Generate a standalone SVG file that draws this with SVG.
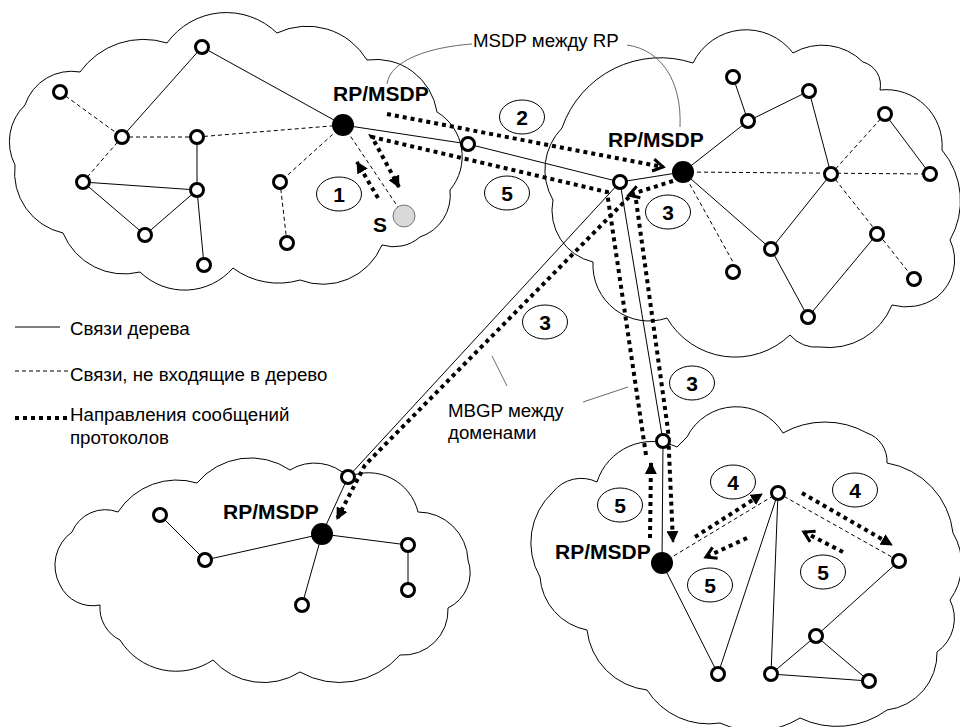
<svg xmlns="http://www.w3.org/2000/svg" width="960" height="727" viewBox="0 0 960 727">
<style>
.cloud{fill:none;stroke:#000;stroke-width:1}
.t{stroke:#000;stroke-width:1;fill:none}
.d{stroke:#000;stroke-width:1;stroke-dasharray:4 3;fill:none}
.m{stroke:#000;stroke-width:4;stroke-dasharray:4 4;fill:none}
.n{fill:#fff;stroke:#000;stroke-width:3}
.rp{fill:#000}
.src{fill:#d9d9d9;stroke:#777;stroke-width:1}
.lead{fill:none;stroke:#444;stroke-width:0.8}
.e{fill:#fff;stroke:#000;stroke-width:1}
.lbl{font-family:"Liberation Sans",Arial,sans-serif;font-size:18.7px;fill:#000}
.b{font-family:"Liberation Sans",Arial,sans-serif;font-size:21px;font-weight:bold;fill:#000}
.num{font-family:"Liberation Sans",Arial,sans-serif;font-size:21px;font-weight:bold;fill:#000;text-anchor:middle}
</style>
<defs>
<marker id="tri" viewBox="0 0 12 12" refX="11" refY="6" markerWidth="12" markerHeight="12" markerUnits="userSpaceOnUse" orient="auto"><path d="M0,0 L12,6 L0,12 Z" fill="#000"/></marker>
<marker id="chev" viewBox="-2 -2 16 16" refX="11" refY="6" markerWidth="16" markerHeight="16" markerUnits="userSpaceOnUse" orient="auto"><path d="M1,0 L11,6 L1,12" fill="none" stroke="#000" stroke-width="3"/></marker>
</defs>
<rect width="960" height="727" fill="#fff"/>

<g id="clouds">
<path class="cloud" d="M25,105 A49,49 0 0 1 80,72 A78,78 0 0 1 167,43 A73,73 0 0 1 277,33 A70,70 0 0 1 367,60 A62,62 0 0 1 437,112 A52,52 0 0 1 450,190 A44,44 0 0 1 420,237 A40,40 0 0 1 382,245 A64,64 0 0 1 300,280 A76,76 0 0 1 233,268 A64,64 0 0 1 140,272 A66,66 0 0 1 63,233 A62,62 0 0 1 15,165 A51,51 0 0 1 25,105 Z"/>
<path class="cloud" d="M562,128 A104,104 0 0 1 693,63 A59,59 0 0 1 793,53 A58,58 0 0 1 863,62 A24,24 0 0 1 880,90 A56,56 0 0 1 942,150 A79,79 0 0 1 950,240 A47,47 0 0 1 937,297 A53,53 0 0 1 892,305 A68,68 0 0 1 820,347 A34,34 0 0 1 790,335 A79,79 0 0 1 667,318 A56,56 0 0 1 593,262 A53,53 0 0 1 553,200 A60,60 0 0 1 562,128 Z"/>
<path class="cloud" d="M72,532 A36,36 0 0 1 118,512 A70,70 0 0 1 197,483 A70,70 0 0 1 290,470 A47,47 0 0 1 348,477 A51,51 0 0 1 418,512 A50,50 0 0 1 468,560 A39,39 0 0 1 448,608 A45,45 0 0 1 400,655 A80,80 0 0 1 300,672 A68,68 0 0 1 213,660 A66,66 0 0 1 120,640 A36,36 0 0 1 100,605 A36,36 0 0 1 60,585 A41,41 0 0 1 72,532 Z"/>
<path class="cloud" d="M553,492 A36,36 0 0 1 597,482 A58,58 0 0 1 677,447 L687,437 A55,55 0 0 1 783,433 A86,86 0 0 1 867,433 A30,30 0 0 1 887,463 A80,80 0 0 1 953,533 A61,61 0 0 1 950,600 A41,41 0 0 1 937,652 A57,57 0 0 1 887,710 A85,85 0 0 1 800,718 A85,85 0 0 1 720,723 A73,73 0 0 1 647,690 A68,68 0 0 1 587,630 A58,58 0 0 1 540,577 A69,69 0 0 1 553,492 Z"/>
</g>

<g id="connectors">
<!-- top-left domain -->
<line class="t" x1="202" y1="47" x2="343" y2="125"/>
<line class="t" x1="202" y1="47" x2="122" y2="137"/>
<line class="t" x1="197" y1="137" x2="197" y2="190"/>
<line class="t" x1="83" y1="182" x2="197" y2="190"/>
<line class="t" x1="83" y1="182" x2="145" y2="235"/>
<line class="t" x1="145" y1="235" x2="197" y2="190"/>
<line class="t" x1="197" y1="190" x2="204" y2="265"/>
<line class="d" x1="60" y1="92" x2="122" y2="137"/>
<line class="d" x1="122" y1="137" x2="197" y2="137"/>
<line class="d" x1="197" y1="137" x2="343" y2="125"/>
<line class="d" x1="122" y1="137" x2="83" y2="182"/>
<line class="d" x1="343" y1="125" x2="280" y2="182"/>
<line class="d" x1="280" y1="182" x2="287" y2="243"/>
<line class="d" x1="343" y1="125" x2="404" y2="216"/>
<!-- inter-domain -->
<polyline class="t" points="343,125 468,144 620,182 683,172"/>
<line class="t" x1="620" y1="182" x2="348" y2="477"/>
<polyline class="t" points="620,182 663,441 662,563"/>
<!-- top-right domain -->
<polyline class="t" points="683,172 748,121 809,91 831,174 771,249 808,317 877,234"/>
<line class="t" x1="733" y1="77" x2="748" y2="121"/>
<line class="t" x1="885" y1="114" x2="930" y2="174"/>
<line class="t" x1="683" y1="172" x2="771" y2="249"/>
<line class="d" x1="683" y1="172" x2="930" y2="174"/>
<line class="d" x1="831" y1="174" x2="885" y2="114"/>
<line class="d" x1="831" y1="174" x2="914" y2="279"/>
<line class="d" x1="683" y1="172" x2="733" y2="262"/>
<!-- bottom-left domain -->
<line class="t" x1="348" y1="477" x2="322" y2="534"/>
<polyline class="t" points="160,515 205,560 322,534 408,545 408,590"/>
<line class="t" x1="322" y1="534" x2="302" y2="605"/>
<!-- bottom-right domain -->
<polyline class="t" points="662,563 718,674 778,493 771,674 869,681 816,636 899,561"/>
<line class="t" x1="771" y1="674" x2="816" y2="636"/>
<line class="d" x1="662" y1="563" x2="778" y2="493"/>
<line class="d" x1="778" y1="493" x2="899" y2="561"/>
<!-- protocol messages -->
<polyline class="m" points="378,198 357,162" marker-end="url(#tri)"/>
<polyline class="m" points="387,114 663,167" marker-end="url(#chev)"/>
<polyline class="m" points="646,455 607,192 372,137 399,187" marker-end="url(#tri)"/>
<polyline class="m" points="673,181 629,195" marker-end="url(#chev)"/>
<polyline class="m" points="636,200 668,430 673,542" marker-end="url(#tri)"/>
<polyline class="m" points="629,197 365,465 337,519" marker-end="url(#tri)"/>
<polyline class="m" points="650,538 651,463" marker-end="url(#tri)"/>
<polyline class="m" points="695,537 762,494" marker-end="url(#tri)"/>
<polyline class="m" points="747,538 706,557" marker-end="url(#chev)"/>
<polyline class="m" points="802,493 892,545" marker-end="url(#tri)"/>
<polyline class="m" points="843,552 804,532" marker-end="url(#chev)"/>
<!-- leaders -->
<path class="lead" d="M472,44 C430,47 390,60 387,84"/>
<path class="lead" d="M627,45 C662,50 682,82 680,127"/>
<line class="lead" x1="492" y1="356" x2="507" y2="386"/>
<line class="lead" x1="583" y1="402" x2="628" y2="387"/>
</g>

<g id="node-tl1"><circle class="n" cx="202" cy="47" r="6.5"/></g>
<g id="node-tl2"><circle class="n" cx="60" cy="92" r="6.5"/></g>
<g id="node-tl3"><circle class="n" cx="122" cy="137" r="6.5"/></g>
<g id="node-tl4"><circle class="n" cx="197" cy="137" r="6.5"/></g>
<g id="node-tl5"><circle class="n" cx="468" cy="144" r="6.5"/></g>
<g id="node-tl6"><circle class="n" cx="83" cy="182" r="6.5"/></g>
<g id="node-tl7"><circle class="n" cx="197" cy="190" r="6.5"/></g>
<g id="node-tl8"><circle class="n" cx="280" cy="182" r="6.5"/></g>
<g id="node-tl9"><circle class="n" cx="145" cy="235" r="6.5"/></g>
<g id="node-tl10"><circle class="n" cx="287" cy="243" r="6.5"/></g>
<g id="node-tl11"><circle class="n" cx="204" cy="265" r="6.5"/></g>
<g id="rp-tl"><circle class="rp" cx="343" cy="125" r="11"/><text class="b" x="333" y="101">RP/MSDP</text></g>
<g id="source-s"><circle class="src" cx="404" cy="216" r="11"/><text class="b" x="373" y="232">S</text></g>

<g id="node-tr1"><circle class="n" cx="620" cy="182" r="6.5"/></g>
<g id="node-tr2"><circle class="n" cx="733" cy="77" r="6.5"/></g>
<g id="node-tr3"><circle class="n" cx="748" cy="121" r="6.5"/></g>
<g id="node-tr4"><circle class="n" cx="809" cy="91" r="6.5"/></g>
<g id="node-tr5"><circle class="n" cx="885" cy="114" r="6.5"/></g>
<g id="node-tr6"><circle class="n" cx="831" cy="174" r="6.5"/></g>
<g id="node-tr7"><circle class="n" cx="930" cy="174" r="6.5"/></g>
<g id="node-tr8"><circle class="n" cx="877" cy="234" r="6.5"/></g>
<g id="node-tr9"><circle class="n" cx="771" cy="249" r="6.5"/></g>
<g id="node-tr10"><circle class="n" cx="733" cy="272" r="6.5"/></g>
<g id="node-tr11"><circle class="n" cx="914" cy="279" r="6.5"/></g>
<g id="node-tr12"><circle class="n" cx="808" cy="317" r="6.5"/></g>
<g id="rp-tr"><circle class="rp" cx="683" cy="172" r="11"/><text class="b" x="608" y="147">RP/MSDP</text></g>

<g id="node-bl1"><circle class="n" cx="348" cy="477" r="6.5"/></g>
<g id="node-bl2"><circle class="n" cx="160" cy="515" r="6.5"/></g>
<g id="node-bl3"><circle class="n" cx="205" cy="560" r="6.5"/></g>
<g id="node-bl4"><circle class="n" cx="408" cy="545" r="6.5"/></g>
<g id="node-bl5"><circle class="n" cx="408" cy="590" r="6.5"/></g>
<g id="node-bl6"><circle class="n" cx="302" cy="605" r="6.5"/></g>
<g id="rp-bl"><circle class="rp" cx="322" cy="534" r="11"/><text class="b" x="223" y="519">RP/MSDP</text></g>

<g id="node-br1"><circle class="n" cx="663" cy="441" r="6.5"/></g>
<g id="node-br2"><circle class="n" cx="778" cy="493" r="6.5"/></g>
<g id="node-br3"><circle class="n" cx="899" cy="561" r="6.5"/></g>
<g id="node-br4"><circle class="n" cx="718" cy="674" r="6.5"/></g>
<g id="node-br5"><circle class="n" cx="771" cy="674" r="6.5"/></g>
<g id="node-br6"><circle class="n" cx="816" cy="636" r="6.5"/></g>
<g id="node-br7"><circle class="n" cx="869" cy="681" r="6.5"/></g>
<g id="rp-br"><circle class="rp" cx="662" cy="563" r="11"/><text class="b" x="555" y="559">RP/MSDP</text></g>

<g id="step-1"><ellipse class="e" cx="339" cy="194" rx="22.5" ry="17"/><text class="num" x="339" y="201.5">1</text></g>
<g id="step-2"><ellipse class="e" cx="522" cy="117" rx="22.5" ry="17"/><text class="num" x="522" y="124.5">2</text></g>
<g id="step-5a"><ellipse class="e" cx="507" cy="193" rx="22.5" ry="17"/><text class="num" x="507" y="200.5">5</text></g>
<g id="step-3a"><ellipse class="e" cx="668" cy="212" rx="22.5" ry="17"/><text class="num" x="668" y="219.5">3</text></g>
<g id="step-3b"><ellipse class="e" cx="545" cy="322" rx="22.5" ry="17"/><text class="num" x="545" y="329.5">3</text></g>
<g id="step-3c"><ellipse class="e" cx="692" cy="383" rx="22.5" ry="17"/><text class="num" x="692" y="390.5">3</text></g>
<g id="step-5b"><ellipse class="e" cx="620" cy="505" rx="22.5" ry="17"/><text class="num" x="620" y="512.5">5</text></g>
<g id="step-4a"><ellipse class="e" cx="733" cy="482" rx="22.5" ry="17"/><text class="num" x="733" y="489.5">4</text></g>
<g id="step-4b"><ellipse class="e" cx="855" cy="490" rx="22.5" ry="17"/><text class="num" x="855" y="497.5">4</text></g>
<g id="step-5c"><ellipse class="e" cx="710" cy="585" rx="22.5" ry="17"/><text class="num" x="710" y="592.5">5</text></g>
<g id="step-5d"><ellipse class="e" cx="823" cy="572" rx="22.5" ry="17"/><text class="num" x="823" y="579.5">5</text></g>

<g id="labels">
<text class="lbl" x="473" y="47">MSDP между RP</text>
<text class="lbl" x="448" y="417">MBGP между</text>
<text class="lbl" x="448" y="439">доменами</text>
</g>

<g id="legend">
<line class="t" x1="15" y1="327" x2="60" y2="327"/>
<text class="lbl" x="70" y="335">Связи дерева</text>
<line class="d" x1="15" y1="371" x2="68" y2="371"/>
<text class="lbl" x="70" y="381">Связи, не входящие в дерево</text>
<line class="m" x1="15" y1="418" x2="68" y2="418"/>
<text class="lbl" x="70" y="421">Направления сообщений</text>
<text class="lbl" x="70" y="444">протоколов</text>
</g>
</svg>
